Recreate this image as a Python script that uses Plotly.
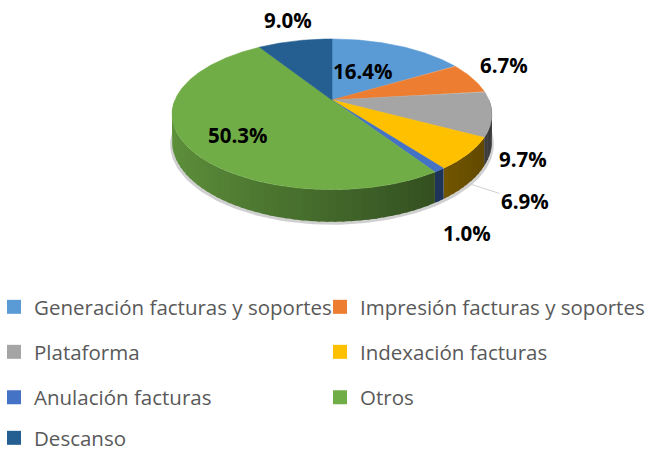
import numpy as np
import plotly.graph_objects as go

# ---------------- data ----------------
categories = [
    "Generación facturas y soportes",
    "Impresión facturas y soportes",
    "Plataforma",
    "Indexación facturas",
    "Anulación facturas",
    "Otros",
    "Descanso",
]
values = [16.4, 6.7, 9.7, 6.9, 1.0, 50.3, 9.0]
colors = ["#5B9BD5", "#ED7D31", "#A5A5A5", "#FFC000", "#4472C4", "#70AD47", "#255E91"]

# ---------------- style / geometry ----------------
W, H = 652, 452
CX, CY = 332, 100          # pie apex (pixel space)
RX, RY = 157, 72.6         # projected radii
PERSP = 0.19               # perspective strength
DEPTH = 26                 # pie thickness
LABEL_K = [0.45, 1, 1, 1, 1, 0.7, 1]
LABEL_OFF = [(-2, -3), (32, -13), (31, 45), None, (28, 63), (4.5, 5), (-6.5, -21)]
LEADER_OFF = {3: (56.5, 18)}
LEG_X = [-6, 320]
LEG_Y = [287, 332, 377.5, 418]
FONT = "Open Sans"


def proj(theta_deg, k=1.0):
    t = np.radians(theta_deg)
    s = 1.0 / (1.0 + PERSP * k * np.cos(t))
    return CX + RX * k * np.sin(t) * s, CY - RY * k * np.cos(t) * s, s


def shade(hex_color, f):
    h = hex_color.lstrip("#")
    r, g, b = (int(h[i:i + 2], 16) for i in (0, 2, 4))
    return "rgb(%d,%d,%d)" % (min(255, r * f), min(255, g * f), min(255, b * f))


total = float(sum(values))
bounds = np.concatenate([[0.0], np.cumsum(values)]) / total * 360.0

fig = go.Figure()

# soft shadow under the front rim
th = np.linspace(85, 275, 120)
xs_, ys_, ss_ = proj(th)
sx = CX + (xs_ - CX) * 1.012
sy_out = ys_ + DEPTH * ss_ + 3
sy_in = ys_ + DEPTH * ss_ - 6
fig.add_trace(go.Scatter(x=np.concatenate([sx, xs_[::-1]]), y=np.concatenate([sy_out, sy_in[::-1]]),
                         mode="lines", fill="toself", fillcolor="rgba(150,150,150,0.45)",
                         line=dict(width=0), hoverinfo="skip", showlegend=False))

# side walls (front half only), drawn as shaded strips
for i, col in enumerate(colors):
    a0, a1 = max(bounds[i], 90.0), min(bounds[i + 1], 270.0)
    if a1 <= a0:
        continue
    n = max(1, int(np.ceil((a1 - a0) / 2.5)))
    edges = np.linspace(a0, a1, n + 1)
    for j in range(n):
        t_end = min(edges[j + 1] + 0.8, a1)
        th = np.linspace(edges[j], t_end, 5)
        xt, yt, s = proj(th)
        yb = yt + DEPTH * s
        xs = np.concatenate([xt, xt[::-1]])
        ys = np.concatenate([yt, yb[::-1]])
        tm = np.radians((edges[j] + edges[j + 1]) / 2)
        f = 0.60 - 0.25 * np.sin(tm)
        c = shade(col, f)
        fig.add_trace(go.Scatter(x=xs, y=ys, mode="lines", fill="toself", fillcolor=c,
                                 line=dict(width=0), hoverinfo="skip", showlegend=False))

# top faces
for i, col in enumerate(colors):
    th = np.arange(bounds[i], bounds[i + 1], 0.5)
    th = np.append(th, bounds[i + 1])
    xr, yr, _ = proj(th)
    xs = np.concatenate([[CX], xr, [CX]])
    ys = np.concatenate([[CY], yr, [CY]])
    fig.add_trace(go.Scatter(x=xs, y=ys, mode="lines", fill="toself", fillcolor=col,
                             line=dict(color=col, width=0.6), name=categories[i],
                             hoverinfo="name", showlegend=False))

# percentage labels
annotations = []
for i, v in enumerate(values):
    mid = (bounds[i] + bounds[i + 1]) / 2
    txt = f"{v:.1f}%"
    font = dict(family=FONT, size=20.5, color="#000000", weight="bold")
    if i in LEADER_OFF:
        xr, yr, s = proj(mid)
        ax, ay = LEADER_OFF[i]
        annotations.append(dict(x=xr, y=yr + DEPTH * s, xref="x", yref="y", text=txt, font=font,
                                showarrow=True, arrowhead=0, arrowwidth=1, arrowcolor="#d0d0d0",
                                ax=ax, ay=ay, standoff=0))
    else:
        xr, yr, _ = proj(mid, LABEL_K[i])
        dx, dy = LABEL_OFF[i]
        annotations.append(dict(x=xr + dx, y=yr + dy, xref="x", yref="y", text=txt, font=font,
                                showarrow=False, xanchor="center", yanchor="middle"))

# legend: one entry per category, two columns
leg_layout = {}
for i, (cat, col) in enumerate(zip(categories, colors)):
    key = "legend" if i == 0 else f"legend{i + 1}"
    fig.add_trace(go.Scatter(x=[None], y=[None], mode="markers", name=cat,
                             marker=dict(symbol="square", size=14, color=col, line=dict(width=0)),
                             legend=key, showlegend=True, hoverinfo="skip"))
    row, colidx = divmod(i, 2)
    leg_layout[key] = dict(x=LEG_X[colidx] / W, y=1 - LEG_Y[row] / H, xanchor="left", yanchor="top",
                           bgcolor="rgba(0,0,0,0)", borderwidth=0,
                           font=dict(family=FONT, size=20.5, color="#595959"))

fig.update_layout(
    width=W, height=H,
    margin=dict(l=0, r=0, t=0, b=0, autoexpand=False),
    paper_bgcolor="white", plot_bgcolor="white",
    xaxis=dict(range=[0, W], visible=False, fixedrange=True),
    yaxis=dict(range=[H, 0], visible=False, fixedrange=True),
    annotations=annotations,
    showlegend=True,
    hovermode=False,
    **leg_layout,
)

fig.write_html("out.html", config={"displayModeBar": False},
               post_script="document.body.style.margin='0px';")
